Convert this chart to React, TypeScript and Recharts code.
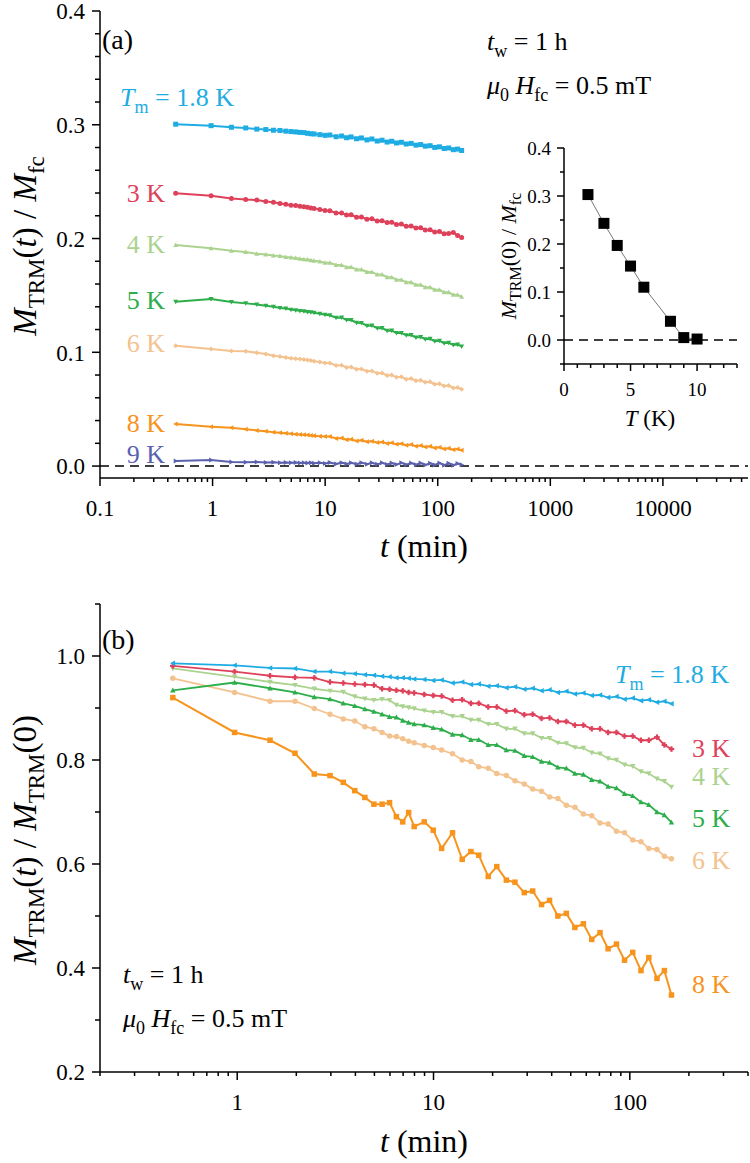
import React from "react"
import { LineChart, Line, XAxis, YAxis, ReferenceLine } from "recharts"

// sampling times (min), shared by both panels
const TIME = [
  0.47, 0.97, 1.47, 1.97, 2.47, 2.97, 3.47, 3.97, 4.47, 4.97, 5.47, 5.97, 6.47, 6.97, 7.47, 7.97, 8.97, 9.97,
  11, 12.5, 14, 15.5, 17, 19, 21, 23.5, 26, 29, 32, 35.5, 39, 43, 47.5, 52.5, 58, 64, 70.5, 77.5,
  85.5, 94, 103.5, 114, 125, 137.5, 150, 163
]

// panel (a): M_TRM(t) / M_fc
const A_18K = [
  0.3005, 0.2992, 0.2978, 0.2972, 0.2962, 0.2958, 0.2952, 0.295, 0.2944, 0.294, 0.2937, 0.2933, 0.2931, 0.2925, 0.2921, 0.2919, 0.2913, 0.2907,
  0.291, 0.2895, 0.2901, 0.2886, 0.2893, 0.2877, 0.2884, 0.2867, 0.2875, 0.2857, 0.2864, 0.2848, 0.2855, 0.284, 0.2846, 0.2831, 0.2836, 0.2821,
  0.2826, 0.2812, 0.2816, 0.2801, 0.2806, 0.2791, 0.2796, 0.2781, 0.2786, 0.2774
]
const A_3K = [
  0.2397, 0.2377, 0.2352, 0.2342, 0.2338, 0.2325, 0.2318, 0.2307, 0.2302, 0.2293, 0.229, 0.2284, 0.2279, 0.2274, 0.2268, 0.2265, 0.2255, 0.2246,
  0.2244, 0.2224, 0.2225, 0.2207, 0.2209, 0.2188, 0.2189, 0.217, 0.2173, 0.2155, 0.2157, 0.214, 0.2142, 0.2123, 0.2127, 0.2107, 0.2111, 0.2092,
  0.2094, 0.2075, 0.2077, 0.2058, 0.2061, 0.2041, 0.2044, 0.2054, 0.2027, 0.2008
]
const A_4K = [
  0.1943, 0.1914, 0.1893, 0.1882, 0.1866, 0.186, 0.185, 0.1846, 0.1838, 0.1834, 0.1828, 0.1823, 0.1818, 0.1815, 0.181, 0.1805, 0.1798, 0.1788,
  0.1788, 0.1767, 0.1768, 0.1747, 0.1749, 0.1727, 0.1728, 0.1706, 0.1706, 0.1683, 0.1683, 0.166, 0.166, 0.1638, 0.1638, 0.1615, 0.1615, 0.1593,
  0.1593, 0.1571, 0.1571, 0.1549, 0.1549, 0.1527, 0.1527, 0.1505, 0.1506, 0.1488
]
const A_5K = [
  0.1445, 0.1468, 0.1442, 0.143, 0.1421, 0.141, 0.1401, 0.139, 0.1384, 0.1375, 0.137, 0.1364, 0.1361, 0.1355, 0.1351, 0.1347, 0.1338, 0.133,
  0.1326, 0.1304, 0.1306, 0.1283, 0.1284, 0.126, 0.1258, 0.1234, 0.1236, 0.1212, 0.1214, 0.119, 0.1191, 0.1169, 0.117, 0.1149, 0.1152, 0.1131,
  0.1135, 0.1115, 0.1118, 0.1098, 0.1101, 0.108, 0.1084, 0.1064, 0.1068, 0.1052
]
const A_6K = [
  0.1058, 0.1029, 0.1012, 0.101, 0.0996, 0.0985, 0.097, 0.0962, 0.0955, 0.0948, 0.0944, 0.094, 0.0936, 0.0932, 0.0927, 0.0922, 0.0914, 0.0905,
  0.0905, 0.0884, 0.0887, 0.0867, 0.0871, 0.0851, 0.0854, 0.0833, 0.0836, 0.0815, 0.0818, 0.0797, 0.08, 0.078, 0.0784, 0.0764, 0.0769, 0.0749,
  0.0754, 0.0736, 0.074, 0.072, 0.0724, 0.0703, 0.0707, 0.0687, 0.069, 0.0675
]
const A_8K = [
  0.0369, 0.0346, 0.0336, 0.0324, 0.0313, 0.0306, 0.0298, 0.0292, 0.0288, 0.0283, 0.028, 0.0278, 0.0275, 0.0272, 0.0269, 0.0267, 0.0263, 0.0259,
  0.0259, 0.0243, 0.0247, 0.0231, 0.0236, 0.0221, 0.0227, 0.0213, 0.0219, 0.0206, 0.0212, 0.0199, 0.0205, 0.0191, 0.0197, 0.0183, 0.0189, 0.0175,
  0.0181, 0.0167, 0.0173, 0.0159, 0.0165, 0.0151, 0.0157, 0.0143, 0.0149, 0.0139
]
const A_9K = [
  0.0044, 0.0053, 0.0036, 0.0034, 0.0036, 0.0031, 0.0033, 0.003, 0.0032, 0.0028, 0.0031, 0.0027, 0.003, 0.0026, 0.0029, 0.0024, 0.0029, 0.0023,
  0.0031, 0.0019, 0.003, 0.0018, 0.0029, 0.0017, 0.003, 0.0016, 0.0028, 0.0015, 0.0029, 0.0014, 0.0027, 0.0013, 0.0028, 0.0012, 0.0026, 0.0011,
  0.0027, 0.001, 0.0025, 0.0009, 0.0026, 0.0008, 0.0024, 0.0008, 0.0023, 0.0012
]

// panel (b): M_TRM(t) / M_TRM(0)
const B_18K = [
  0.986, 0.982, 0.977, 0.976, 0.97, 0.97, 0.967, 0.966, 0.964, 0.963, 0.961, 0.96, 0.958, 0.958, 0.957, 0.956, 0.955, 0.953,
  0.954, 0.948, 0.95, 0.945, 0.946, 0.942, 0.943, 0.939, 0.941, 0.936, 0.938, 0.933, 0.935, 0.93, 0.932, 0.927, 0.929, 0.924,
  0.925, 0.92, 0.922, 0.917, 0.919, 0.914, 0.916, 0.911, 0.913, 0.908
]
const B_3K = [
  0.981, 0.97, 0.962, 0.959, 0.958, 0.95, 0.948, 0.946, 0.945, 0.944, 0.937, 0.936, 0.934, 0.933, 0.93, 0.929, 0.926, 0.924,
  0.923, 0.915, 0.916, 0.909, 0.909, 0.902, 0.902, 0.894, 0.895, 0.887, 0.888, 0.88, 0.881, 0.874, 0.874, 0.867, 0.867, 0.86,
  0.86, 0.853, 0.853, 0.846, 0.846, 0.838, 0.838, 0.844, 0.829, 0.821
]
const B_4K = [
  0.976, 0.96, 0.95, 0.944, 0.937, 0.933, 0.931, 0.922, 0.918, 0.915, 0.917, 0.915, 0.906, 0.903, 0.901, 0.899, 0.895, 0.892,
  0.892, 0.884, 0.884, 0.877, 0.877, 0.869, 0.869, 0.86, 0.86, 0.851, 0.851, 0.842, 0.842, 0.833, 0.832, 0.824, 0.823, 0.814,
  0.812, 0.803, 0.8, 0.791, 0.788, 0.778, 0.774, 0.764, 0.759, 0.748
]
const B_5K = [
  0.934, 0.949, 0.938, 0.93, 0.921, 0.917, 0.909, 0.904, 0.898, 0.893, 0.888, 0.883, 0.882, 0.876, 0.872, 0.869, 0.867, 0.862,
  0.859, 0.849, 0.848, 0.839, 0.839, 0.829, 0.829, 0.819, 0.818, 0.808, 0.806, 0.797, 0.795, 0.786, 0.784, 0.774, 0.772, 0.762,
  0.759, 0.749, 0.746, 0.735, 0.731, 0.719, 0.714, 0.7, 0.694, 0.68
]
const B_6K = [
  0.957, 0.93, 0.913, 0.913, 0.899, 0.888, 0.879, 0.875, 0.864, 0.86, 0.853, 0.846, 0.845, 0.841, 0.836, 0.833, 0.828, 0.824,
  0.819, 0.812, 0.8, 0.797, 0.787, 0.784, 0.774, 0.77, 0.76, 0.754, 0.744, 0.74, 0.729, 0.726, 0.713, 0.709, 0.696, 0.693,
  0.679, 0.677, 0.663, 0.66, 0.646, 0.643, 0.63, 0.628, 0.615, 0.61
]
const B_8K = [
  0.92, 0.853, 0.838, 0.813, 0.773, 0.77, 0.757, 0.741, 0.728, 0.715, 0.715, 0.718, 0.691, 0.681, 0.699, 0.672, 0.681, 0.665,
  0.63, 0.66, 0.609, 0.624, 0.617, 0.576, 0.595, 0.569, 0.565, 0.545, 0.548, 0.522, 0.53, 0.5, 0.505, 0.478, 0.485, 0.455,
  0.468, 0.437, 0.446, 0.415, 0.43, 0.395, 0.42, 0.38, 0.395, 0.348
]

// inset: M_TRM(0) / M_fc vs T
const INSET_T = [1.8, 3, 4, 5, 6, 8, 9, 10]
const INSET_M0 = [0.303, 0.243, 0.197, 0.154, 0.11, 0.039, 0.005, 0.002]

// tick labels
const A_X_MAJOR = [0.1, 1, 10, 100, 1000, 10000]
const A_Y_MAJOR = [0, 0.1, 0.2, 0.3, 0.4]
const B_X_MAJOR = [1, 10, 100]
const B_Y_MAJOR = [0.2, 0.4, 0.6, 0.8, 1.0]
const IN_X_MAJOR = [0, 5, 10]
const IN_Y_MAJOR = [0, 0.1, 0.2, 0.3, 0.4]

const SERIF = "'Liberation Serif', 'Times New Roman', 'DejaVu Serif', serif"

const logMinors = (lo: number, hi: number) => {
  const out: number[] = []
  for (let e = -2; e <= 5; e++) {
    for (let m = 1; m <= 9; m++) {
      const v = m * Math.pow(10, e)
      if (v >= lo * 0.9999 && v <= hi * 1.0001) out.push(v)
    }
  }
  return out
}
const linTicks = (lo: number, hi: number, step: number) => {
  const out: number[] = []
  for (let v = lo; v <= hi + step / 100; v += step) out.push(Math.round(v * 1e6) / 1e6)
  return out
}

const isIn = (list: number[], v: number) => list.some(m => Math.abs(m - v) < 1e-7 * Math.max(1, Math.abs(m)))

const BottomTick = (props: any) => {
  const { x, y, payload, majors, fmt, fs, dy, big, small } = props
  const major = isIn(majors, payload.value)
  return (
    <g>
      <line x1={x} y1={y} x2={x} y2={y + (major ? big : small)} stroke="#000" strokeWidth={1.5} />
      {major && (
        <text x={x} y={y + dy} textAnchor="middle" fontSize={fs} style={{ fontFamily: SERIF }} fill="#000">
          {fmt(payload.value)}
        </text>
      )}
    </g>
  )
}

const LeftTick = (props: any) => {
  const { x, y, payload, majors, fmt, fs, gap, big, small } = props
  const major = isIn(majors, payload.value)
  const base = Math.max(y + fs * 0.36, fs * 0.8 + 1)
  return (
    <g>
      <line x1={x - (major ? big : small)} y1={y} x2={x} y2={y} stroke="#000" strokeWidth={1.5} />
      {major && (
        <text x={x - gap} y={base} textAnchor="end" fontSize={fs} style={{ fontFamily: SERIF }} fill="#000">
          {fmt(payload.value)}
        </text>
      )}
    </g>
  )
}

const Marker = ({ cx, cy, shape, color, size }: any) => {
  if (cx == null || cy == null || isNaN(cx) || isNaN(cy)) return null
  const s = size / 2
  switch (shape) {
    case "square":
      return <rect x={cx - s} y={cy - s} width={size} height={size} fill={color} />
    case "circle":
      return <circle cx={cx} cy={cy} r={s} fill={color} />
    case "triUp":
      return <polygon points={`${cx},${cy - s} ${cx + s},${cy + s * 0.8} ${cx - s},${cy + s * 0.8}`} fill={color} />
    case "triDown":
      return <polygon points={`${cx},${cy + s} ${cx + s},${cy - s * 0.8} ${cx - s},${cy - s * 0.8}`} fill={color} />
    case "triLeft":
      return <polygon points={`${cx - s},${cy} ${cx + s * 0.8},${cy - s} ${cx + s * 0.8},${cy + s}`} fill={color} />
    case "triRight":
      return <polygon points={`${cx + s},${cy} ${cx - s * 0.8},${cy - s} ${cx - s * 0.8},${cy + s}`} fill={color} />
    case "diamond":
      return <polygon points={`${cx},${cy - s} ${cx + s},${cy} ${cx},${cy + s} ${cx - s},${cy}`} fill={color} />
    case "plus":
      return (
        <g fill={color}>
          <rect x={cx - s} y={cy - s * 0.4} width={size} height={s * 0.8} />
          <rect x={cx - s * 0.4} y={cy - s} width={s * 0.8} height={size} />
        </g>
      )
    default:
      return null
  }
}

const mkDot = (shape: string, color: string, size: number) => (p: any) =>
  <Marker key={`d-${p.index}`} cx={p.cx} cy={p.cy} shape={shape} color={color} size={size} />

const COL = {
  k18: "#1EACE3",
  k3: "#DE425A",
  k4: "#ABD38F",
  k5: "#2EAE4B",
  k6: "#F3C28F",
  k8: "#F7941E",
  k9: "#5B61AE"
}

const SERIES_A = [
  { key: "k18", shape: "square" },
  { key: "k3", shape: "circle" },
  { key: "k4", shape: "triUp" },
  { key: "k5", shape: "triDown" },
  { key: "k6", shape: "diamond" },
  { key: "k8", shape: "triLeft" },
  { key: "k9", shape: "triRight" }
]
const SERIES_B = [
  { key: "k8", shape: "square" },
  { key: "k6", shape: "circle" },
  { key: "k5", shape: "triUp" },
  { key: "k4", shape: "triDown" },
  { key: "k3", shape: "plus" },
  { key: "k18", shape: "triLeft" }
]

const rowsA = TIME.map((t, i) => ({
  t, k18: A_18K[i], k3: A_3K[i], k4: A_4K[i], k5: A_5K[i], k6: A_6K[i], k8: A_8K[i], k9: A_9K[i]
}))
const rowsB = TIME.map((t, i) => ({
  t, k18: B_18K[i], k3: B_3K[i], k4: B_4K[i], k5: B_5K[i], k6: B_6K[i], k8: B_8K[i]
}))
const rowsIn = INSET_T.map((T, i) => ({ T, m: INSET_M0[i] }))

const AXIS_LINE = { stroke: "#000", strokeWidth: 1.5 }
const abs: React.CSSProperties = { position: "absolute", left: 0, top: 0 }
const TICK_FS = 23

const PanelA = () => {
  const xDom = [0.1, 57000]
  const yDom = [-0.0105, 0.4]
  return (
    <div style={abs}>
      <LineChart width={750} height={1163} data={rowsA} margin={{ top: 11, right: 2, bottom: 635, left: 10 }}>
        <XAxis
          dataKey="t" type="number" scale="log" domain={xDom} allowDataOverflow
          ticks={logMinors(0.1, 57000)} interval={0} tickSize={0} tickMargin={0} tickLine={false}
          height={50} axisLine={AXIS_LINE}
          tick={(p: any) => <BottomTick {...p} majors={A_X_MAJOR} fmt={(v: number) => String(v)} fs={TICK_FS} dy={38} big={8} small={4} />}
        />
        <XAxis xAxisId="top" orientation="top" dataKey="t" type="number" scale="log" domain={xDom} allowDataOverflow height={0} tick={false} tickLine={false} axisLine={AXIS_LINE} />
        <YAxis
          type="number" domain={yDom} allowDataOverflow ticks={linTicks(0, 0.4, 0.02)} interval={0}
          tickSize={0} tickMargin={0} tickLine={false} width={90} axisLine={AXIS_LINE}
          tick={(p: any) => <LeftTick {...p} majors={A_Y_MAJOR} fmt={(v: number) => v.toFixed(1)} fs={TICK_FS} gap={15} big={8} small={5} />}
        />
        <YAxis yAxisId="right" orientation="right" type="number" domain={yDom} allowDataOverflow width={0} tick={false} tickLine={false} axisLine={AXIS_LINE} />
        {SERIES_A.map(s => (
          <Line
            key={s.key} dataKey={s.key} type="linear" stroke={(COL as any)[s.key]} strokeWidth={2}
            dot={mkDot(s.shape, (COL as any)[s.key], 5)} activeDot={false} isAnimationActive={false}
          />
        ))}
        <ReferenceLine y={0} stroke="#000" strokeWidth={1.5} strokeDasharray="9 6" />
      </LineChart>
    </div>
  )
}

const Inset = () => {
  const xDom = [0, 13]
  const yDom = [-0.05, 0.4]
  return (
    <div style={abs}>
      <LineChart width={750} height={1163} data={rowsIn} margin={{ top: 148, right: 13, bottom: 759, left: 504 }}>
        <XAxis
          dataKey="T" type="number" domain={xDom} allowDataOverflow ticks={linTicks(0, 13, 1)} interval={0}
          tickSize={0} tickMargin={0} tickLine={false} height={40} axisLine={AXIS_LINE}
          tick={(p: any) => <BottomTick {...p} majors={IN_X_MAJOR} fmt={(v: number) => String(v)} fs={19} dy={32} big={7} small={4} />}
        />
        <XAxis xAxisId="top" orientation="top" dataKey="T" type="number" domain={xDom} allowDataOverflow height={0} tick={false} tickLine={false} axisLine={AXIS_LINE} />
        <YAxis
          type="number" domain={yDom} allowDataOverflow ticks={linTicks(-0.05, 0.4, 0.05)} interval={0}
          tickSize={0} tickMargin={0} tickLine={false} width={60} axisLine={AXIS_LINE}
          tick={(p: any) => <LeftTick {...p} majors={IN_Y_MAJOR} fmt={(v: number) => v.toFixed(1)} fs={19} gap={13} big={7} small={4} />}
        />
        <YAxis yAxisId="right" orientation="right" type="number" domain={yDom} allowDataOverflow width={0} tick={false} tickLine={false} axisLine={AXIS_LINE} />
        <ReferenceLine y={0} stroke="#000" strokeWidth={1.5} strokeDasharray="9 6" />
        <Line dataKey="m" type="linear" stroke="#777" strokeWidth={1} dot={mkDot("square", "#000", 11)} activeDot={false} isAnimationActive={false} />
      </LineChart>
    </div>
  )
}

const PanelB = () => {
  const xDom = [0.2, 400]
  const yDom = [0.2, 1.1]
  return (
    <div style={abs}>
      <LineChart width={750} height={1163} data={rowsB} margin={{ top: 604, right: 2, bottom: 41, left: 10 }}>
        <XAxis
          dataKey="t" type="number" scale="log" domain={xDom} allowDataOverflow
          ticks={logMinors(0.2, 400)} interval={0} tickSize={0} tickMargin={0} tickLine={false}
          height={50} axisLine={AXIS_LINE}
          tick={(p: any) => <BottomTick {...p} majors={B_X_MAJOR} fmt={(v: number) => String(v)} fs={TICK_FS} dy={38} big={8} small={4} />}
        />
        <XAxis xAxisId="top" orientation="top" dataKey="t" type="number" scale="log" domain={xDom} allowDataOverflow height={0} tick={false} tickLine={false} axisLine={AXIS_LINE} />
        <YAxis
          type="number" domain={yDom} allowDataOverflow ticks={linTicks(0.2, 1.1, 0.1)} interval={0}
          tickSize={0} tickMargin={0} tickLine={false} width={90} axisLine={AXIS_LINE}
          tick={(p: any) => <LeftTick {...p} majors={B_Y_MAJOR} fmt={(v: number) => v.toFixed(1)} fs={TICK_FS} gap={15} big={8} small={5} />}
        />
        <YAxis yAxisId="right" orientation="right" type="number" domain={yDom} allowDataOverflow width={0} tick={false} tickLine={false} axisLine={AXIS_LINE} />
        {SERIES_B.map(s => (
          <Line
            key={s.key} dataKey={s.key} type="linear" stroke={(COL as any)[s.key]} strokeWidth={s.key === "k8" ? 2 : 1.8}
            dot={mkDot(s.shape, (COL as any)[s.key], 5.5)} activeDot={false} isAnimationActive={false}
          />
        ))}
      </LineChart>
    </div>
  )
}

const SUB = 7

const Texts = () => (
  <svg width={750} height={1163} style={{ ...abs, pointerEvents: "none", fontFamily: SERIF }}>
    {/* panel (a) */}
    <text x={102} y={49} fontSize={28}>(a)</text>
    <text x={487} y={50} fontSize={26}>
      <tspan fontStyle="italic">t</tspan><tspan fontSize={18} dy={SUB}>w</tspan><tspan dy={-SUB}> = 1 h</tspan>
    </text>
    <text x={487} y={94} fontSize={26}>
      <tspan fontStyle="italic">μ</tspan><tspan fontSize={18} dy={SUB}>0</tspan>
      <tspan dy={-SUB} fontStyle="italic"> H</tspan><tspan fontSize={18} dy={SUB}>fc</tspan><tspan dy={-SUB}> = 0.5 mT</tspan>
    </text>
    <text x={120} y={106} fontSize={26} fill={COL.k18}>
      <tspan fontStyle="italic">T</tspan><tspan fontSize={18} dy={SUB}>m</tspan><tspan dy={-SUB}> = 1.8 K</tspan>
    </text>
    <text x={165} y={202} fontSize={26} fill={COL.k3} textAnchor="end">3 K</text>
    <text x={165} y={253} fontSize={26} fill={COL.k4} textAnchor="end">4 K</text>
    <text x={165} y={309} fontSize={26} fill={COL.k5} textAnchor="end">5 K</text>
    <text x={165} y={352} fontSize={26} fill={COL.k6} textAnchor="end">6 K</text>
    <text x={165} y={432} fontSize={26} fill={COL.k8} textAnchor="end">8 K</text>
    <text x={165} y={463} fontSize={26} fill={COL.k9} textAnchor="end">9 K</text>
    <text x={424} y={557} fontSize={32} textAnchor="middle">
      <tspan fontStyle="italic">t</tspan><tspan> (min)</tspan>
    </text>
    <text transform="translate(36,246) rotate(-90)" fontSize={33} textAnchor="middle">
      <tspan fontStyle="italic">M</tspan><tspan fontSize={23} dy={8}>TRM</tspan><tspan dy={-8}>(</tspan>
      <tspan fontStyle="italic">t</tspan><tspan>) / </tspan><tspan fontStyle="italic">M</tspan>
      <tspan fontSize={23} dy={8}>fc</tspan>
    </text>
    {/* inset titles */}
    <text x={650} y={426} fontSize={23} textAnchor="middle">
      <tspan fontStyle="italic">T</tspan><tspan> (K)</tspan>
    </text>
    <text transform="translate(516,256) rotate(-90)" fontSize={22} textAnchor="middle">
      <tspan fontStyle="italic">M</tspan><tspan fontSize={16} dy={5}>TRM</tspan><tspan dy={-5}>(0) / </tspan>
      <tspan fontStyle="italic">M</tspan><tspan fontSize={16} dy={5}>fc</tspan>
    </text>
    {/* panel (b) */}
    <text x={102} y={649} fontSize={28}>(b)</text>
    <text x={615} y={683} fontSize={26} fill={COL.k18}>
      <tspan fontStyle="italic">T</tspan><tspan fontSize={18} dy={SUB}>m</tspan><tspan dy={-SUB}> = 1.8 K</tspan>
    </text>
    <text x={692} y={757} fontSize={26} fill={COL.k3}>3 K</text>
    <text x={692} y={785} fontSize={26} fill={COL.k4}>4 K</text>
    <text x={692} y={827} fontSize={26} fill={COL.k5}>5 K</text>
    <text x={692} y={869} fontSize={26} fill={COL.k6}>6 K</text>
    <text x={692} y={993} fontSize={26} fill={COL.k8}>8 K</text>
    <text x={123} y={983} fontSize={26}>
      <tspan fontStyle="italic">t</tspan><tspan fontSize={18} dy={SUB}>w</tspan><tspan dy={-SUB}> = 1 h</tspan>
    </text>
    <text x={123} y={1027} fontSize={26}>
      <tspan fontStyle="italic">μ</tspan><tspan fontSize={18} dy={SUB}>0</tspan>
      <tspan dy={-SUB} fontStyle="italic"> H</tspan><tspan fontSize={18} dy={SUB}>fc</tspan><tspan dy={-SUB}> = 0.5 mT</tspan>
    </text>
    <text x={424} y={1152} fontSize={32} textAnchor="middle">
      <tspan fontStyle="italic">t</tspan><tspan> (min)</tspan>
    </text>
    <text transform="translate(36,840) rotate(-90)" fontSize={33} textAnchor="middle">
      <tspan fontStyle="italic">M</tspan><tspan fontSize={23} dy={8}>TRM</tspan><tspan dy={-8}>(</tspan>
      <tspan fontStyle="italic">t</tspan><tspan>) / </tspan><tspan fontStyle="italic">M</tspan>
      <tspan fontSize={23} dy={8}>TRM</tspan><tspan dy={-8}>(0)</tspan>
    </text>
  </svg>
)

export default function App() {
  return (
    <div style={{ position: "absolute", left: 0, top: 0, width: 750, height: 1163, background: "#fff", fontFamily: SERIF }}>
      <PanelA />
      <Inset />
      <PanelB />
      <Texts />
    </div>
  )
}
